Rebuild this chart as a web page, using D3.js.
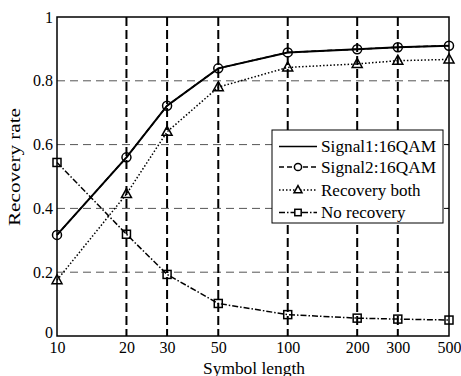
<!DOCTYPE html>
<html><head><meta charset="utf-8">
<script src="https://cdn.jsdelivr.net/npm/d3@7"></script>
<style>body{margin:0;background:#fff}svg{display:block}</style>
</head><body>
<svg id="c" width="461" height="376"></svg>
<script>
const symbolLength = [10, 20, 30, 50, 100, 200, 300, 500];
const signal1 = [0.317, 0.560, 0.722, 0.839, 0.889, 0.899, 0.905, 0.910];
const signal2 = [0.317, 0.560, 0.722, 0.839, 0.889, 0.899, 0.905, 0.910];
const recoveryBoth = [0.175, 0.445, 0.640, 0.780, 0.842, 0.853, 0.863, 0.867];
const noRecovery = [0.544, 0.319, 0.193, 0.102, 0.067, 0.056, 0.053, 0.050];
const xTicks = [10, 20, 30, 50, 100, 200, 300, 500];
const yTicks = [0, 0.2, 0.4, 0.6, 0.8, 1];
const seriesNames = ["Signal1:16QAM", "Signal2:16QAM", "Recovery both", "No recovery"];

const svg = d3.select("#c");
const L = 57, R = 449, T = 17, B = 336;
const x = d3.scaleLog().domain([10, 500]).range([L, R]);
const y = d3.scaleLinear().domain([0, 1]).range([B, T]);
const font = "Liberation Serif";

// horizontal grid
svg.append("g").selectAll("line").data(yTicks.filter(v => v > 0 && v < 1)).join("line")
  .attr("x1", L).attr("x2", R).attr("y1", d => y(d)).attr("y2", d => y(d))
  .attr("stroke", "#555").attr("stroke-width", 1).attr("stroke-dasharray", "8,5");
// vertical grid
svg.append("g").selectAll("line").data(xTicks.filter(v => v > 10 && v < 500)).join("line")
  .attr("x1", d => x(d)).attr("x2", d => x(d)).attr("y1", T).attr("y2", B)
  .attr("stroke", "#000").attr("stroke-width", 2).attr("stroke-dasharray", "9,4");

// axes
const xAxis = d3.axisBottom(x).tickValues(xTicks).tickFormat(d3.format("d")).tickSize(0).tickPadding(6);
const gx = svg.append("g").attr("transform", `translate(0,${B})`).call(xAxis);
gx.select(".domain").remove();
gx.selectAll("text").style("font-family", font).style("font-size", "16px").attr("fill", "#000");
const yAxis = d3.axisLeft(y).tickValues(yTicks).tickFormat(d => d === 0 || d === 1 ? d3.format("d")(d) : d3.format(".1f")(d)).tickSize(0).tickPadding(4);
const gy = svg.append("g").attr("transform", `translate(${L},0)`).call(yAxis);
gy.select(".domain").remove();
gy.selectAll("text").style("font-family", font).style("font-size", "16px").attr("fill", "#000")
  .attr("dy", d => d === 0 ? "0.1em" : "0.32em");

// frame
svg.append("rect").attr("x", L).attr("y", T).attr("width", R - L).attr("height", B - T)
  .attr("fill", "none").attr("stroke", "#000").attr("stroke-width", 1.5);
// right-side inward ticks
svg.append("g").selectAll("line").data(yTicks.filter(v => v > 0 && v < 1)).join("line")
  .attr("x1", R - 5).attr("x2", R).attr("y1", d => y(d)).attr("y2", d => y(d)).attr("stroke", "#000");

const series = [
  {vals: signal1, dash: null, marker: null},
  {vals: signal2, dash: "5,3", marker: "circle"},
  {vals: recoveryBoth, dash: "1.5,2", marker: "triangle"},
  {vals: noRecovery, dash: "6,2,1.5,2", marker: "square"}
];
const line = d3.line().x((d, i) => x(symbolLength[i])).y(d => y(d));

function drawMarker(g, type, cx, cy, s) {
  s = s || 1;
  if (type === "circle") g.append("circle").attr("cx", cx).attr("cy", cy).attr("r", 4.5 * s);
  else if (type === "triangle") g.append("path").attr("d", `M${cx},${cy-5.5*s}L${cx+5*s},${cy+3.5*s}L${cx-5*s},${cy+3.5*s}Z`);
  else if (type === "square") g.append("rect").attr("x", cx - 4 * s).attr("y", cy - 4 * s).attr("width", 8 * s).attr("height", 8 * s);
}

// draw lines
series.slice().reverse().forEach(s => {
  svg.append("path").attr("d", line(s.vals)).attr("fill", "none").attr("stroke", "#000")
    .attr("stroke-width", s.dash ? 1.5 : 2).attr("stroke-dasharray", s.dash);
});
series.forEach(s => {
  if (!s.marker) return;
  const g = svg.append("g").attr("fill", "none").attr("stroke", "#000").attr("stroke-width", 1.5);
  s.vals.forEach((v, i) => drawMarker(g, s.marker, x(symbolLength[i]), y(v)));
});

// legend
const lg = svg.append("g");
lg.append("rect").attr("x", 272).attr("y", 130).attr("width", 171).attr("height", 93)
  .attr("fill", "#fff").attr("stroke", "#000").attr("stroke-width", 1);
const legY = [146.5, 167, 190, 212.5];
series.forEach((s, i) => {
  const yy = legY[i];
  lg.append("line").attr("x1", 279).attr("x2", 317).attr("y1", yy).attr("y2", yy)
    .attr("stroke", "#000").attr("stroke-width", 1.5).attr("stroke-dasharray", s.dash);
  if (s.marker) {
    const g = lg.append("g").attr("fill", "#fff").attr("stroke", "#000").attr("stroke-width", 1.5);
    drawMarker(g, s.marker, 298, yy, 0.8);
  }
  lg.append("text").attr("x", 321).attr("y", yy + 5.5).text(seriesNames[i])
    .style("font-family", font).style("font-size", "17px").attr("fill", "#000")
    .attr("textLength", i < 2 ? 115 : null).attr("lengthAdjust", "spacingAndGlyphs");
});

// axis labels
svg.append("text").attr("x", 254).attr("y", 374).attr("text-anchor", "middle")
  .style("font-family", font).style("font-size", "16px").attr("textLength", 102).attr("lengthAdjust", "spacingAndGlyphs").text("Symbol length");
svg.append("text").attr("transform", `translate(20,167) rotate(-90)`).attr("text-anchor", "middle")
  .style("font-family", font).style("font-size", "16px").attr("textLength", 118).attr("lengthAdjust", "spacingAndGlyphs").text("Recovery rate");
</script>
</body></html>
